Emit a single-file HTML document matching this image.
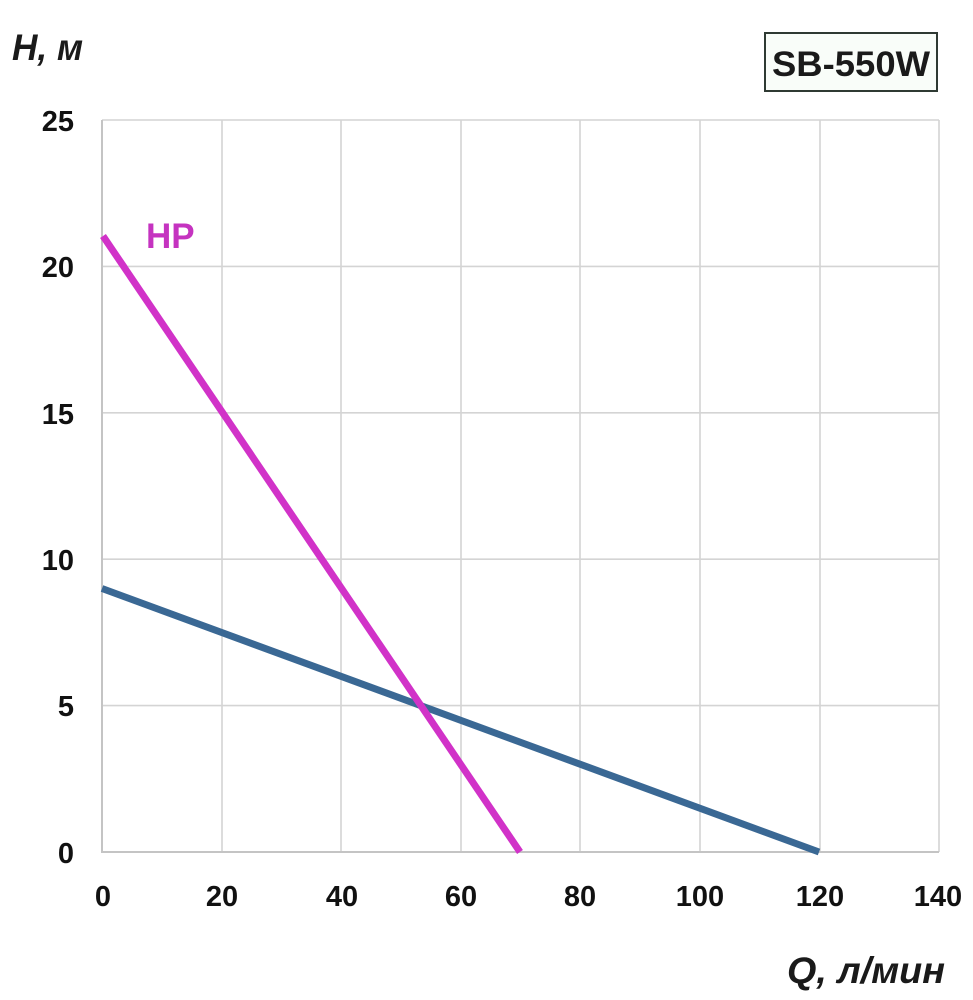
<!DOCTYPE html>
<html>
<head>
<meta charset="utf-8">
<style>
html,body{margin:0;padding:0;background:#fff;}
svg{display:block;}
</style>
</head>
<body>
<svg width="973" height="1000" viewBox="0 0 973 1000" xmlns="http://www.w3.org/2000/svg">
<rect x="0" y="0" width="973" height="1000" fill="#ffffff"/>
<!-- gridlines -->
<g stroke="#d4d4d4" stroke-width="1.6" fill="none">
<line x1="102" y1="120" x2="939" y2="120"/>
<line x1="102" y1="266.4" x2="939" y2="266.4"/>
<line x1="102" y1="412.8" x2="939" y2="412.8"/>
<line x1="102" y1="559.2" x2="939" y2="559.2"/>
<line x1="102" y1="705.6" x2="939" y2="705.6"/>
<line x1="222" y1="120" x2="222" y2="852"/>
<line x1="341" y1="120" x2="341" y2="852"/>
<line x1="461" y1="120" x2="461" y2="852"/>
<line x1="580" y1="120" x2="580" y2="852"/>
<line x1="700" y1="120" x2="700" y2="852"/>
<line x1="820" y1="120" x2="820" y2="852"/>
<line x1="939" y1="120" x2="939" y2="852"/>
</g>
<g stroke="#c4c4c4" stroke-width="2" fill="none">
<line x1="102" y1="120" x2="102" y2="853"/>
<line x1="101" y1="852" x2="939" y2="852"/>
</g>
<!-- series -->
<line x1="102" y1="588.5" x2="819" y2="852" stroke="#3a6894" stroke-width="7" stroke-linecap="butt"/>
<line x1="103" y1="236" x2="520" y2="852" stroke="#d132c8" stroke-width="7" stroke-linecap="butt"/>
<!-- y tick labels -->
<g font-family="Liberation Sans, sans-serif" font-weight="bold" font-size="29" fill="#111" text-anchor="end">
<text x="74" y="131">25</text>
<text x="74" y="277">20</text>
<text x="74" y="424">15</text>
<text x="74" y="570">10</text>
<text x="74" y="716">5</text>
<text x="74" y="863">0</text>
</g>
<!-- x tick labels -->
<g font-family="Liberation Sans, sans-serif" font-weight="bold" font-size="29" fill="#111" text-anchor="middle">
<text x="103" y="906">0</text>
<text x="222" y="906">20</text>
<text x="342" y="906">40</text>
<text x="461" y="906">60</text>
<text x="580" y="906">80</text>
<text x="700" y="906">100</text>
<text x="820" y="906">120</text>
<text x="938" y="906">140</text>
</g>
<!-- axis titles -->
<text x="12" y="60" font-family="Liberation Sans, sans-serif" font-weight="bold" font-style="italic" font-size="37" fill="#1a1a1a" textLength="71" lengthAdjust="spacingAndGlyphs">H, м</text>
<text x="787" y="983" font-family="Liberation Sans, sans-serif" font-weight="bold" font-style="italic" font-size="37" fill="#1a1a1a" textLength="158" lengthAdjust="spacingAndGlyphs">Q, л/мин</text>
<!-- HP label -->
<text x="146" y="248" font-family="Liberation Sans, sans-serif" font-weight="bold" font-size="35" fill="#c533c0">HP</text>
<!-- model box -->
<rect x="765" y="33" width="172" height="58" fill="#f9fdf9" stroke="#2f3a33" stroke-width="2"/>
<text x="772" y="76" font-family="Liberation Sans, sans-serif" font-weight="bold" font-size="35" fill="#1a1a1a" textLength="158" lengthAdjust="spacingAndGlyphs">SB-550W</text>
</svg>
</body>
</html>
